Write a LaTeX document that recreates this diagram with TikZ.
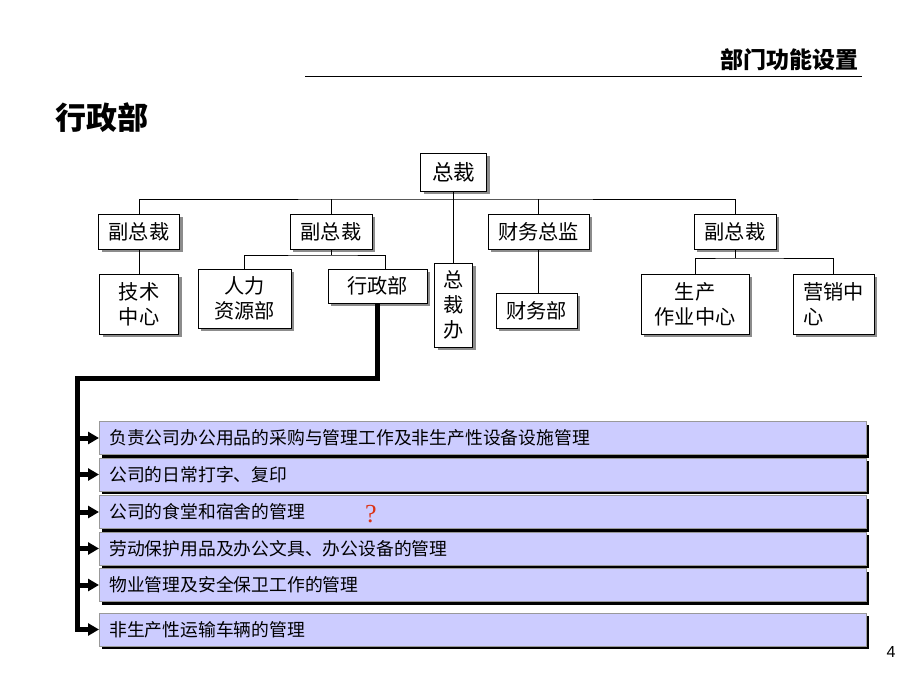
\documentclass[tikz,border=0pt]{standalone}
\usepackage{fontspec}
\setmainfont{Liberation Sans}
\newfontfamily\cjk{Noto Sans CJK SC}
\newfontfamily\qfont{Liberation Serif}
\usetikzlibrary{shadows,arrows.meta}
\definecolor{barfill}{RGB}{204,204,255}
\definecolor{qred}{RGB}{220,50,20}
\tikzset{
	orgbox/.style={draw=black, line width=0.8pt, fill=white, inner sep=0pt, align=center,
		font=\cjk\fontsize{20.2}{25}\selectfont,
		drop shadow={shadow xshift=3pt, shadow yshift=-3pt, fill=black!45, opacity=1}},
	dutybar/.style={draw=black!40, line width=0.6pt, fill=barfill, anchor=west,
		minimum height=33pt, text width=747pt, inner xsep=10pt, inner ysep=0pt, align=left,
		font=\cjk\fontsize{17.8}{20}\selectfont,
		drop shadow={shadow xshift=3pt, shadow yshift=-3pt, fill=black, opacity=1}},
	orgline/.style={line width=0.8pt},
	duty/.style={line width=5pt, line join=miter, -{Triangle[length=11pt,width=12pt]}}
}

\begin{document}
\begin{tikzpicture}[x=1pt,y=-1pt]
	\useasboundingbox (0,0) rectangle (920,690);
	
	% heading
	\node[anchor=east, font=\cjk\bfseries\fontsize{23}{23}\selectfont] (hdr) at (862,60) {部门功能设置};
	\draw[line width=0.8pt] (305,76) -- (862,76);
	\node[anchor=west, font=\cjk\bfseries\fontsize{31}{31}\selectfont] (ttl) at (52,118) {行政部};
	
	% org chart
	\node[orgbox, minimum width=66pt, minimum height=38pt, font=\cjk\fontsize{21.5}{25}\selectfont] (zc) at (453.5,172) {总裁};
	\node[orgbox, minimum width=81pt, minimum height=35pt] (fz1) at (139,231.5) {副总裁};
	\node[orgbox, minimum width=82pt, minimum height=35pt] (fz2) at (331,231.5) {副总裁};
	\node[orgbox, minimum width=101pt, minimum height=35pt] (cw) at (538.5,231.5) {财务总监};
	\node[orgbox, minimum width=82pt, minimum height=35pt] (fz3) at (735,231.5) {副总裁};
	
	\node[orgbox, minimum width=79pt, minimum height=60pt] (jszx) at (139,304) {技术\\中心};
	\node[orgbox, minimum width=93pt, minimum height=59pt] (rl) at (244.5,298.5) {人力\\资源部};
	\node[orgbox, minimum width=99pt, minimum height=34pt] (xz) at (377.5,286) {行政部};
	\node[orgbox, minimum width=38pt, minimum height=84pt] (zcb) at (453.5,305) {总\\裁\\办};
	\node[orgbox, minimum width=81pt, minimum height=35pt] (cwb) at (536.5,310.5) {财务部};
	\node[orgbox, minimum width=108pt, minimum height=60pt] (sc) at (695,304) {生产\\作业中心};
	\node[orgbox, minimum width=81pt, minimum height=60pt, align=left] (yx) at (833.5,304) {营销中\\心};
	
	\coordinate (bus) at (453.5,199);
	\coordinate (fork2) at (331,255);
	\coordinate (fork3) at (735,258);
	
	\draw[orgline] (zc.south) -- (zcb.north);
	\draw[orgline] (fz1.north) |- (bus) -| (fz3.north);
	\draw[orgline] (fz2.north) -- (fz2.north |- bus);
	\draw[orgline] (cw.north) -- (cw.north |- bus);
	\draw[orgline] (fz1.south) -- (jszx.north);
	\draw[orgline] (cw.south) -- (cw.south |- cwb.north);
	\draw[orgline] (fz2.south) -- (fork2);
	\draw[orgline] (rl.north) |- (fork2) -| ([xshift=8pt]xz.north);
	\draw[orgline] (fz3.south) -- (fork3);
	\draw[orgline] (sc.north) |- (fork3) -| (yx.north);
	
	% duties
	\node[dutybar] (b1) at (99,438) {负责公司办公用品的采购与管理工作及非生产性设备设施管理};
	\node[dutybar] (b2) at (99,474.5) {公司的日常打字、复印};
	\node[dutybar] (b3) at (99,512) {公司的食堂和宿舍的管理};
	\node[dutybar] (b4) at (99,548.5) {劳动保护用品及办公文具、办公设备的管理};
	\node[dutybar] (b5) at (99,585) {物业管理及安全保卫工作的管理};
	\node[dutybar] (b6) at (99,629.5) {非生产性运输车辆的管理};
	
	\node[text=qred, font=\qfont\fontsize{26}{26}\selectfont] (qm) at (371,514) {?};
	
	\coordinate (tk) at (77,378);
	\draw[duty] (xz.south) |- (tk) |- (b6.west);
	\foreach \i in {1,...,5}
	\draw[duty] (tk |- b\i.west) -- (b\i.west);
	
	\node[font=\fontsize{16}{16}\selectfont] (pg) at (891,652) {4};
\end{tikzpicture}
\end{document}
